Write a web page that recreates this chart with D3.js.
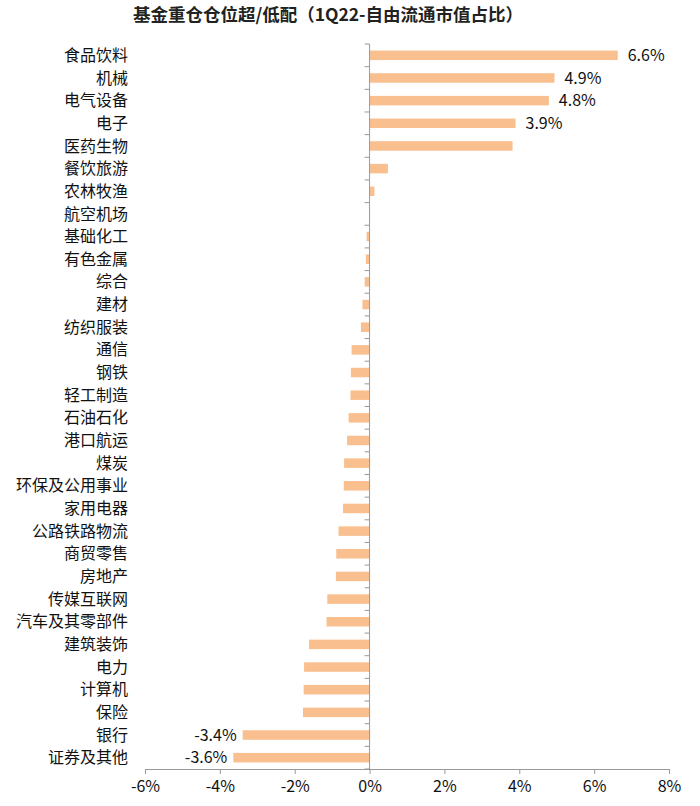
<!DOCTYPE html>
<html><head><meta charset="utf-8">
<script src="https://cdn.jsdelivr.net/npm/d3@7"></script>
<style>body{margin:0;background:#fff;} text{font-family:"Noto Sans CJK SC","Noto Sans",sans-serif;}</style>
</head><body>
<svg id="c" width="700" height="806"></svg>
<script>
const categories = ["食品饮料","机械","电气设备","电子","医药生物","餐饮旅游","农林牧渔","航空机场","基础化工","有色金属","综合","建材","纺织服装","通信","钢铁","轻工制造","石油石化","港口航运","煤炭","环保及公用事业","家用电器","公路铁路物流","商贸零售","房地产","传媒互联网","汽车及其零部件","建筑装饰","电力","计算机","保险","银行","证券及其他"];
const values = [6.63,4.94,4.79,3.9,3.82,0.49,0.13,0.01,-0.08,-0.1,-0.13,-0.19,-0.23,-0.48,-0.5,-0.51,-0.56,-0.6,-0.68,-0.69,-0.71,-0.83,-0.89,-0.9,-1.13,-1.15,-1.62,-1.75,-1.76,-1.78,-3.39,-3.64];
const labelled = ["食品饮料","机械","电气设备","电子","银行","证券及其他"];
const xTicks = [-6,-4,-2,0,2,4,6,8];
const title = "基金重仓仓位超/低配（1Q22-自由流通市值占比）";

const svg = d3.select("#c");
const x = d3.scaleLinear().domain([-6,8]).range([145,669]);
const y = d3.scaleBand().domain(categories).range([44,769]);
const barH = 9.5;
const data = categories.map((c,i)=>({c, v: values[i]}));
const fmt = v => d3.format(".1f")(v).replace("−","-") + "%";

svg.append("text").attr("x",328).attr("y",21).attr("text-anchor","middle")
  .attr("font-size",17.5).attr("font-weight","bold").attr("fill","#222").text(title);

svg.selectAll("rect.bar").data(data).join("rect").attr("class","bar")
  .attr("x",d=>x(Math.min(0,d.v))).attr("width",d=>Math.abs(x(d.v)-x(0)))
  .attr("y",d=>y(d.c)+y.bandwidth()/2-barH/2).attr("height",barH)
  .attr("fill","#F9BF8F");

svg.selectAll("text.cat").data(categories).join("text").attr("class","cat")
  .attr("x",128).attr("y",d=>y(d)+y.bandwidth()/2).attr("dy","0.35em")
  .attr("text-anchor","end").attr("font-size",16).attr("fill","#111").text(d=>d);

svg.selectAll("text.val").data(data.filter(d=>labelled.includes(d.c))).join("text").attr("class","val")
  .attr("x",d=>d.v>0 ? x(d.v)+10 : x(d.v)-6)
  .attr("y",d=>y(d.c)+y.bandwidth()/2).attr("dy","0.35em")
  .attr("text-anchor",d=>d.v>0?"start":"end").attr("font-size",16).attr("fill","#111")
  .text(d=>fmt(d.v));

const xa = svg.append("g").attr("transform","translate(0,769)")
  .call(d3.axisBottom(x).tickValues(xTicks).tickSize(5).tickSizeOuter(0).tickFormat(d=>String(d)+"%"));
xa.select(".domain").attr("stroke","#999");
xa.selectAll(".tick line").attr("stroke","#999");
xa.selectAll(".tick text").attr("font-size",16).attr("fill","#111").attr("dy","0.95em")
  .style("font-family",'"Noto Sans CJK SC",sans-serif');

svg.append("line").attr("x1",x(0)).attr("x2",x(0)).attr("y1",44).attr("y2",769).attr("stroke","#999");
const bounds = categories.map(c=>y(c)).concat([y.range()[1]]);
svg.selectAll("line.yt").data(bounds).join("line").attr("class","yt")
  .attr("x1",x(0)-5).attr("x2",x(0)).attr("y1",d=>d).attr("y2",d=>d).attr("stroke","#999");
</script>
</body></html>
